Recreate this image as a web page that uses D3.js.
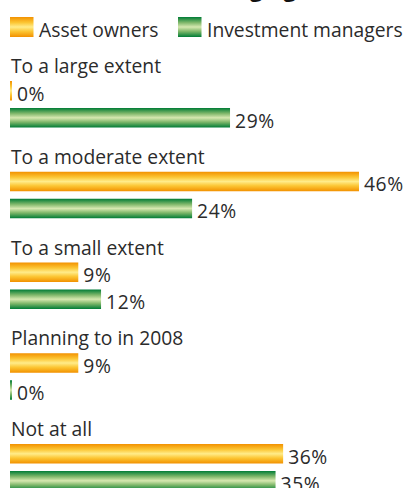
<!DOCTYPE html>
<html>
<head>
<meta charset="utf-8">
<script src="https://cdn.jsdelivr.net/npm/d3@7"></script>
<style>
  html, body { margin: 0; padding: 0; background: #ffffff; }
  svg { display: block; }
  text { font-family: "Open Sans", Lato, sans-serif; fill: #2b2b2b; }
</style>
</head>
<body>
<svg id="chart" width="409" height="488"></svg>
<script>
// Survey answers, share of respondents (%)
const categories = ["To a large extent", "To a moderate extent", "To a small extent", "Planning to in 2008", "Not at all"];
const assetOwners = [0, 46, 9, 9, 36];
const investmentManagers = [29, 24, 12, 0, 35];
const seriesNames = ["Asset owners", "Investment managers"];
const titleText = "Extent of hedging their risks (%)";

const svg = d3.select("#chart");
const defs = svg.append("defs");

// Vertical "tube" gradients for the bars
function tube(id, edge, mid, light) {
  const g = defs.append("linearGradient").attr("id", id)
    .attr("x1", 0).attr("y1", 0).attr("x2", 0).attr("y2", 1);
  [[0, edge], [0.28, mid], [0.5, light], [0.72, mid], [1, edge]].forEach(([o, c]) =>
    g.append("stop").attr("offset", o).attr("stop-color", c));
}
tube("gOrange", "#f29100", "#fcc634", "#ffec8a");
tube("gGreen", "#007c36", "#7fb76a", "#d6e8b0");
const fills = ["url(#gOrange)", "url(#gGreen)"];

const fontSize = 19.3;

// Title (mostly above the visible area)
svg.append("text")
  .attr("x", 409).attr("y", -3.5)
  .attr("font-size", 22).attr("font-weight", 700)
  .style("fill", "#111")
  .text(titleText)
  .each(function () {
    // place the word "hedging" so it ends near x=296
    const full = this.textContent;
    const idx = full.indexOf("hedging") + "hedging".length;
    const w = this.getSubStringLength(0, idx);
    d3.select(this).attr("x", 296 - w);
  });

// Legend
const legendX = [10, 178];
seriesNames.forEach((name, i) => {
  svg.append("rect").attr("x", legendX[i]).attr("y", 17).attr("width", 23.5).attr("height", 20)
    .attr("fill", fills[i]);
  svg.append("text").attr("x", legendX[i] + 29).attr("y", 37)
    .attr("font-size", fontSize).text(name);
});

// Scales
const x = d3.scaleLinear().domain([0, 46]).range([10, 359]);
const y = d3.scaleBand().domain(categories).range([56, 56 + 5 * 90.75]);

const barH = 19.5;
const offsets = [25, 52];
const series = [assetOwners, investmentManagers];

const groups = svg.selectAll("g.cat").data(categories).join("g")
  .attr("class", "cat")
  .attr("transform", d => `translate(0,${y(d)})`);

groups.append("text").attr("x", 11).attr("y", 17).attr("font-size", fontSize).text(d => d);

series.forEach((vals, s) => {
  groups.append("rect")
    .attr("x", x(0))
    .attr("y", offsets[s])
    .attr("width", (d, i) => Math.max(2, x(vals[i]) - x(0)))
    .attr("height", barH)
    .attr("fill", fills[s]);
  groups.append("text")
    .attr("x", (d, i) => x(0) + Math.max(2, x(vals[i]) - x(0)) + 5)
    .attr("y", offsets[s] + barH)
    .attr("font-size", fontSize)
    .attr("letter-spacing", 0.6)
    .text((d, i) => vals[i] + "%");
});
</script>
</body>
</html>
